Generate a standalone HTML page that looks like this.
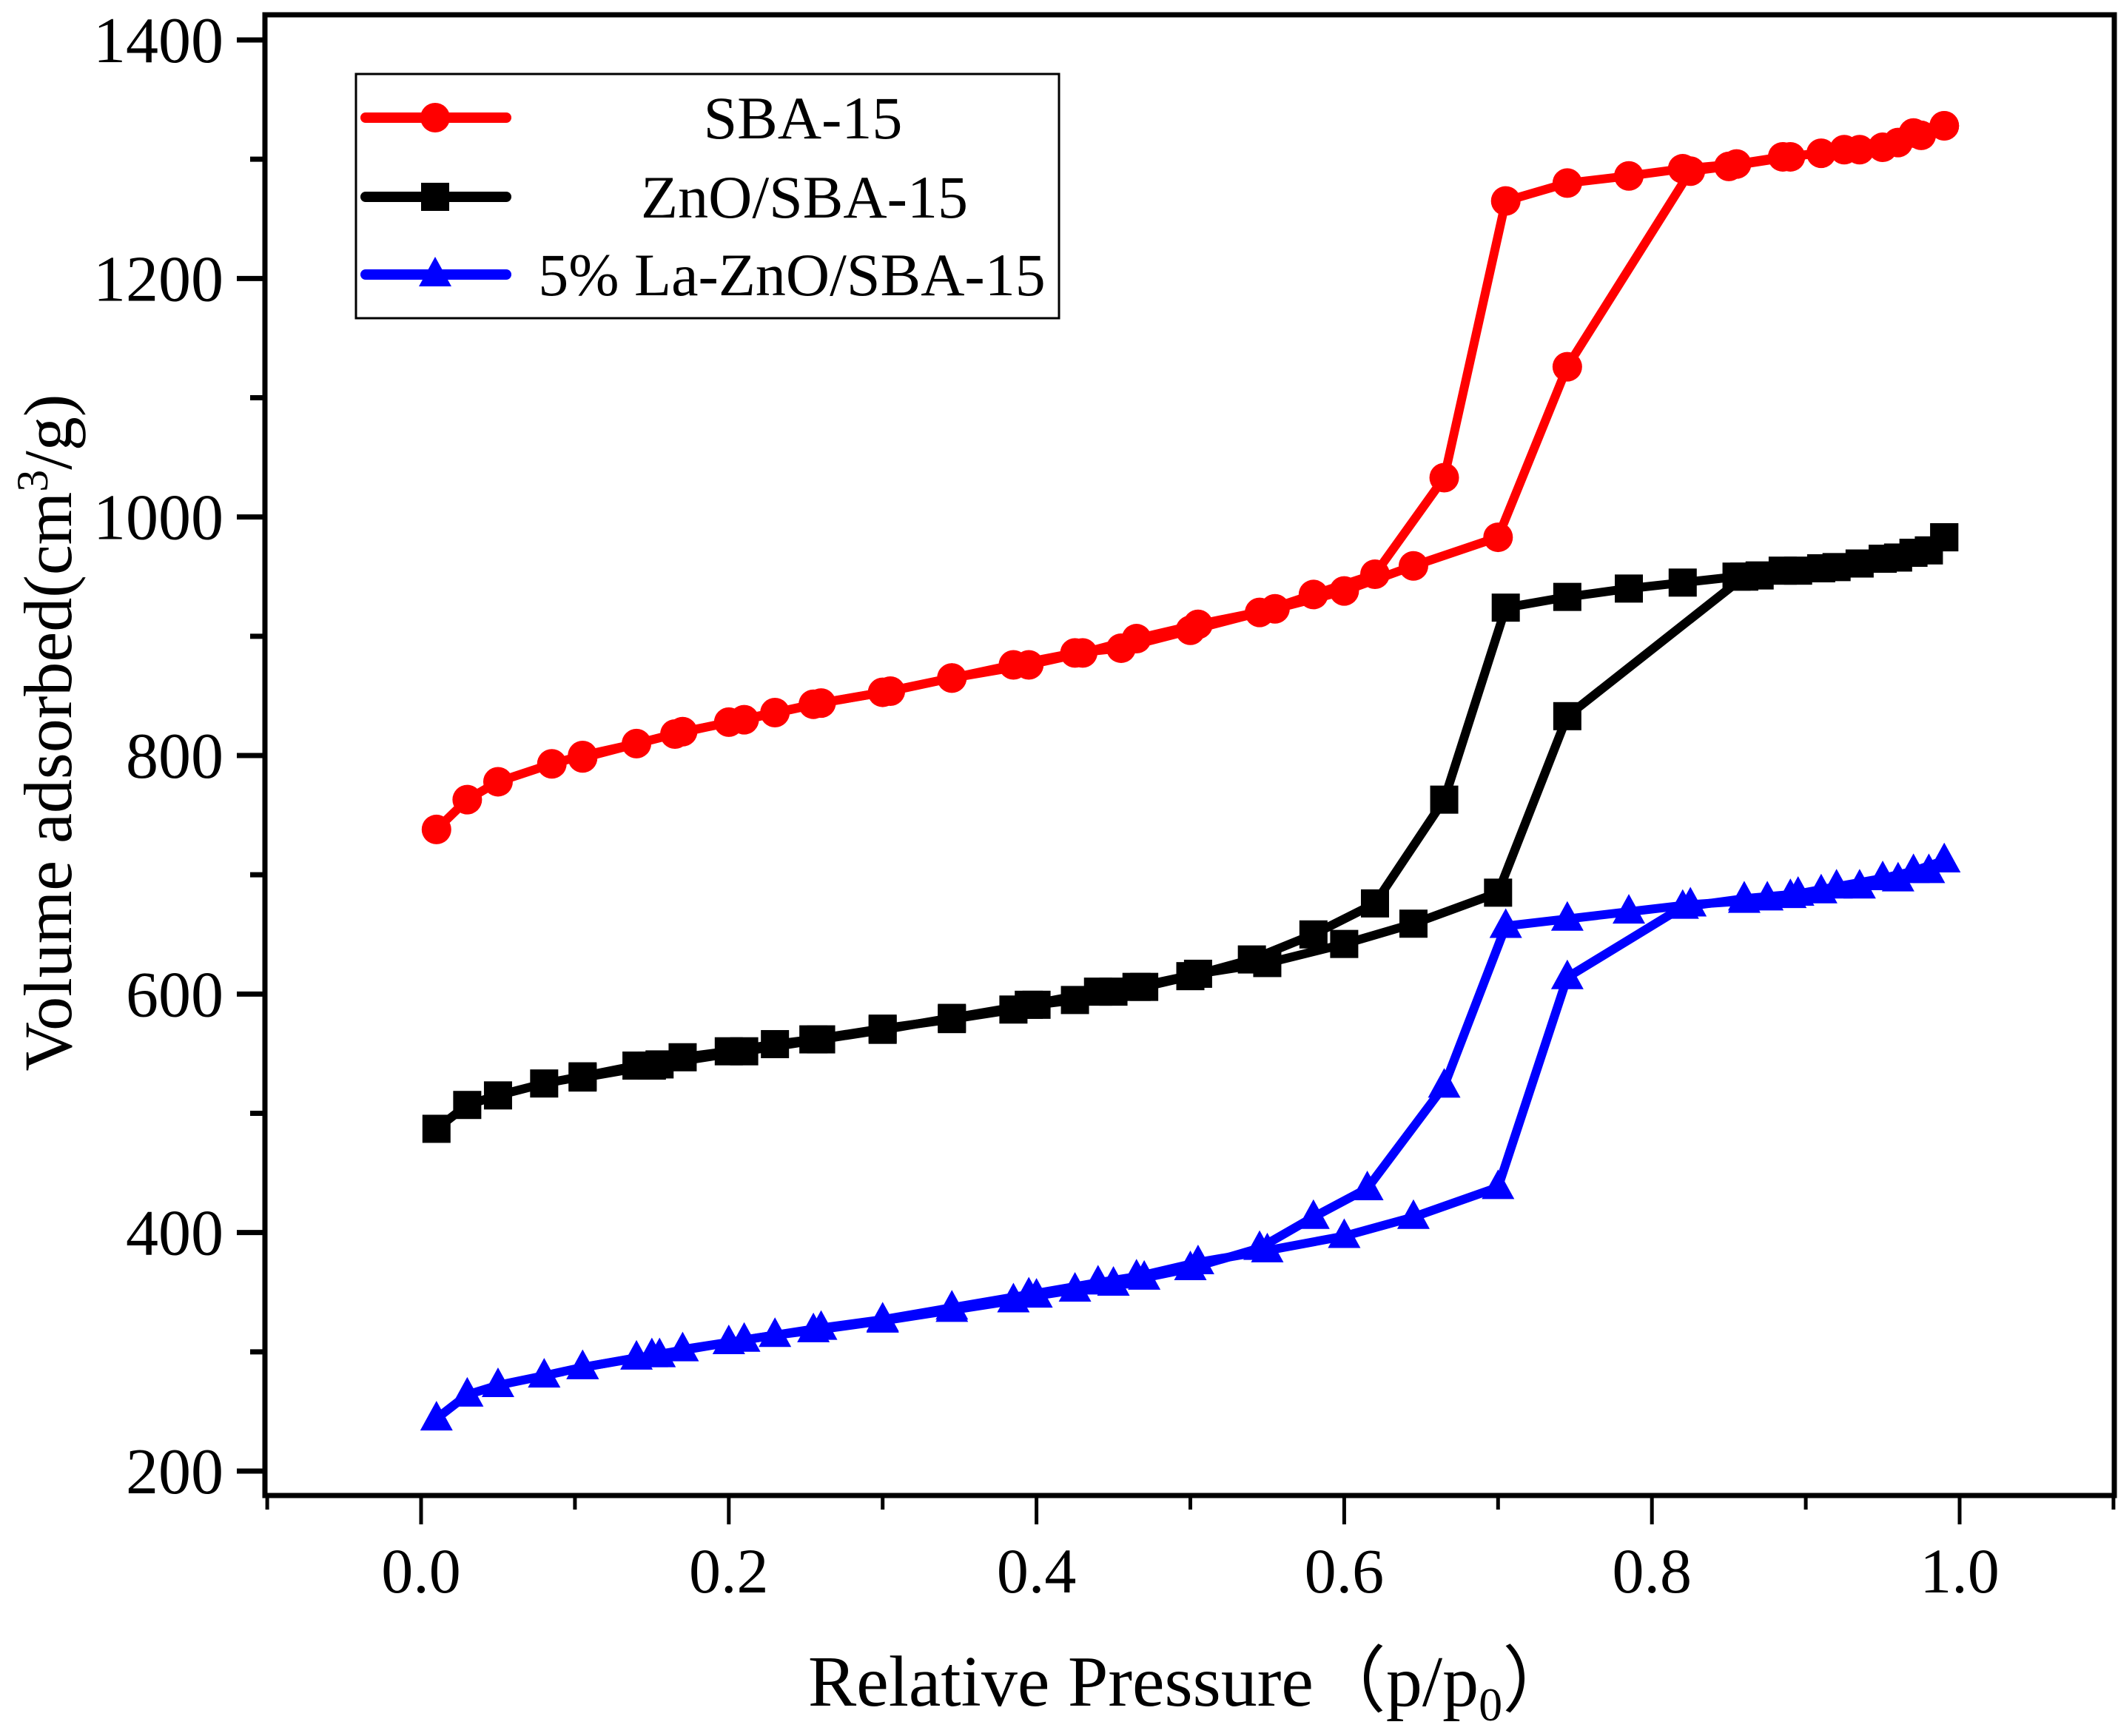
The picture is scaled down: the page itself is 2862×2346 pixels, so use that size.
<!DOCTYPE html>
<html><head><meta charset="utf-8"><style>
html,body{margin:0;padding:0;background:#fff}
svg{display:block}
text{font-family:"Liberation Serif",serif;fill:#000}
</style></head><body>
<svg id="chart" width="2862" height="2346" viewBox="0 0 2862 2346" xmlns="http://www.w3.org/2000/svg">
<g id="axes"></g>
<g id="series"></g>
<g id="legend"></g>
</svg>
<script>
const xTicks=[0.0,0.2,0.4,0.6,0.8,1.0];
const xTickLabels=["0.0","0.2","0.4","0.6","0.8","1.0"];
const yTicks=[200,400,600,800,1000,1200,1400];
const yTickLabels=["200","400","600","800","1000","1200","1400"];
const seriesNames=["SBA-15","ZnO/SBA-15","5% La-ZnO/SBA-15"];
const sbaAdsP=[0.01,0.03,0.05,0.085,0.105,0.14,0.165,0.2,0.23,0.255,0.3,0.345,0.385,0.425,0.455,0.5,0.545,0.58,0.62,0.665,0.705,0.745,0.785,0.82,0.855,0.885,0.91,0.935,0.96,0.975,0.99];
const sbaAdsV=[738,763,778,793,800,810,818,828,836,843,853,865,876,886,890,905,920,935,952,1033,1265,1280,1286,1292,1296,1302,1305,1308,1314,1320,1328];
const sbaDesP=[0.99,0.97,0.95,0.925,0.89,0.85,0.825,0.745,0.7,0.645,0.6,0.555,0.505,0.465,0.43,0.395,0.345,0.305,0.26,0.21,0.17,0.105];
const sbaDesV=[1328,1322,1310,1308,1302,1294,1290,1126,983,959,938,923,910,898,886,876,865,854,844,830,820,798];
const znoAdsP=[0.01,0.03,0.05,0.08,0.105,0.14,0.155,0.17,0.2,0.23,0.255,0.3,0.345,0.385,0.4,0.425,0.45,0.47,0.5,0.54,0.58,0.62,0.665,0.705,0.745,0.785,0.82,0.855,0.87,0.885,0.91,0.935,0.96,0.98,0.99];
const znoAdsV=[487,507,515,525,531,540,541,547,552,558,562,571,579,587,591,595,602,606,615,629,650,676,763,924,933,940,945,950,951,955,957,961,966,972,983];
const znoDesP=[0.99,0.97,0.95,0.92,0.895,0.86,0.745,0.7,0.645,0.6,0.55,0.505,0.465,0.44,0.395,0.345,0.3,0.26,0.21,0.15,0.105];
const znoDesV=[983,970,965,958,955,950,833,685,659,642,626,617,606,602,591,580,570,562,552,540,530];
const laAdsP=[0.01,0.03,0.05,0.08,0.105,0.14,0.155,0.17,0.2,0.23,0.255,0.3,0.345,0.385,0.4,0.425,0.45,0.47,0.5,0.545,0.58,0.615,0.665,0.705,0.745,0.785,0.825,0.86,0.875,0.89,0.91,0.935,0.96,0.98,0.99];
const laAdsV=[244,264,272,280,287,295,297,302,308,314,318,326,335,343,347,352,357,362,370,387,413,437,523,657,663,669,675,678,680,682,686,690,696,703,712];
const laDesP=[0.99,0.97,0.95,0.92,0.895,0.86,0.82,0.745,0.7,0.645,0.6,0.55,0.505,0.465,0.44,0.395,0.345,0.3,0.26,0.21,0.15,0.105];
const laDesV=[712,703,697,690,684,680,673,614,438,413,397,385,375,363,358,348,337,327,320,310,297,287];

const NS="http://www.w3.org/2000/svg";
function X(p){return 569+(p-0)*2079;}
function Y(v){return 1988-(v-200)*(1934/1200);}
function mk(tag,attrs,parent){const e=document.createElementNS(NS,tag);for(const k in attrs)e.setAttribute(k,attrs[k]);parent.appendChild(e);return e;}
const axes=document.getElementById('axes');
const ser=document.getElementById('series');
const leg=document.getElementById('legend');

let fr=mk('rect',{x:358,y:20,width:2499,height:2001,fill:'none',stroke:'#000','stroke-width':7},axes);


for(let i=0;i<=12;i++){
  const p=-0.1+i*0.1;const x=X(p);const major=(i%2===1);
  const t=mk('line',{x1:x,y1:2021,x2:x,y2:major?2060:2040,stroke:'#000','stroke-width':5},axes);
  
  
}
xTicks.forEach((p,i)=>{
  const t=mk('text',{x:X(p),y:2152,'font-size':86,'text-anchor':'middle'},axes);
  t.textContent=xTickLabels[i];
  
  
});
for(let v=200;v<=1400;v+=100){
  const major=(v%200===0);const y=Y(v);
  const t=mk('line',{x1:358,y1:y,x2:major?320:338,y2:y,stroke:'#000','stroke-width':7},axes);
  
  
}
yTicks.forEach((v,i)=>{
  const t=mk('text',{x:302,y:Y(v)+30,'font-size':88,'text-anchor':'end'},axes);
  t.textContent=yTickLabels[i];
  
  
});
let xt=mk('text',{x:1610,y:2305,'font-size':98,'text-anchor':'middle'},axes);
xt.innerHTML='Relative Pressure（p/p<tspan font-size="64" dy="20">0</tspan><tspan dy="-20">）</tspan>';


let yt=mk('text',{x:0,y:0,'font-size':92,'text-anchor':'middle',transform:'translate(96,990) rotate(-90)'},axes);
yt.innerHTML='Volume adsorbed(cm<tspan font-size="60" dy="-32">3</tspan><tspan dy="32">/g)</tspan>';



function marker(shape,x,y,color,parent){
  let m;
  if(shape==='circle') m=mk('circle',{cx:x,cy:y,r:20,fill:color},parent);
  else if(shape==='square') m=mk('rect',{x:x-19,y:y-19,width:38,height:38,fill:color},parent);
  else m=mk('polygon',{points:`${x},${y-24} ${x-22},${y+16} ${x+22},${y+16}`,fill:color},parent);
  return m;
}
function drawSeries(name,P,V,color,shape){
  const g=mk('g',{},ser);
  
  
  const pts=P.map((p,i)=>X(p)+','+Y(V[i])).join(' ');
  const l=mk('polyline',{points:pts,fill:'none',stroke:color,'stroke-width':12,'stroke-linejoin':'round','stroke-linecap':'round'},g);
  
  
  P.forEach((p,i)=>{
    const m=marker(shape,X(p),Y(V[i]),color,g);
    
    
  });
}
drawSeries('sba15-adsorption',sbaAdsP,sbaAdsV,'#ff0000','circle');
drawSeries('sba15-desorption',sbaDesP,sbaDesV,'#ff0000','circle');
drawSeries('zno-adsorption',znoAdsP,znoAdsV,'#000000','square');
drawSeries('zno-desorption',znoDesP,znoDesV,'#000000','square');
drawSeries('la-zno-adsorption',laAdsP,laAdsV,'#0000ff','triangle');
drawSeries('la-zno-desorption',laDesP,laDesV,'#0000ff','triangle');

let lb=mk('rect',{x:481,y:100,width:950,height:330,fill:'#fff',stroke:'#000','stroke-width':3},leg);


const legColors=['#ff0000','#000000','#0000ff'];
const legShapes=['circle','square','triangle'];
const legY=[159,266,371];
const legTextX=[1085,1087,1070];
seriesNames.forEach((n,i)=>{
  const g=mk('g',{},leg);
  
  
  mk('line',{x1:494,y1:legY[i],x2:684,y2:legY[i],stroke:legColors[i],'stroke-width':14,'stroke-linecap':'round'},g);
  marker(legShapes[i],588,legY[i],legColors[i],g);
  const t=mk('text',{x:legTextX[i],y:legY[i]+28,'font-size':82,'text-anchor':'middle'},g);
  t.textContent=n;
});
</script>
</body></html>
